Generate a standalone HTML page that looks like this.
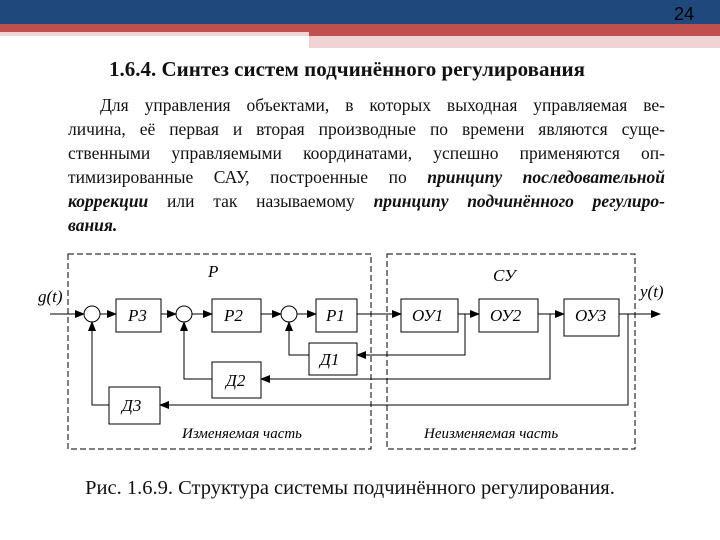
<!DOCTYPE html>
<html><head><meta charset="utf-8"><style>
body{margin:0;width:720px;height:540px;overflow:hidden;background:#fff;position:relative;font-family:"Liberation Serif",serif;}
.l{position:absolute;left:68px;width:597px;font-size:17.5px;line-height:20px;text-align:justify;text-align-last:justify;white-space:nowrap;color:#111;}
b i, i b{font-weight:bold;}
</style></head><body>
<div style="position:absolute;left:0;top:0;width:720px;height:24px;background:#1f497d"></div>
<div style="position:absolute;left:0;top:24px;width:720px;height:8px;background:#c0504d"></div>
<div style="position:absolute;left:0;top:32px;width:309px;height:4px;background:#f2d3d3"></div>
<div style="position:absolute;left:309px;top:32px;width:411px;height:4px;background:#c0504d"></div>
<div style="position:absolute;left:309px;top:36px;width:411px;height:12px;background:#f0d4d4"></div>
<div style="position:absolute;left:674px;top:4px;font-family:'Liberation Sans Narrow','Liberation Sans',sans-serif;font-size:18px;color:#000">24</div>
<div style="position:absolute;left:0;width:694px;top:57px;text-align:center;font-size:21px;font-weight:bold;color:#111">1.6.4. Синтез систем подчинённого регулирования</div>
<div class="l" style="top:95px;left:100px;width:565px">Для управления объектами, в которых выходная управляемая ве-</div>
<div class="l" style="top:119px">личина, её первая и вторая производные по времени являются суще-</div>
<div class="l" style="top:143px">ственными управляемыми координатами, успешно применяются оп-</div>
<div class="l" style="top:167px">тимизированные САУ, построенные по <b><i>принципу последовательной</i></b></div>
<div class="l" style="top:191px"><b><i>коррекции</i></b> или так называемому <b><i>принципу подчинённого регулиро-</i></b></div>
<div class="l" style="top:215px;text-align-last:left"><b><i>вания.</i></b></div>
<svg style="position:absolute;left:0;top:0" width="720" height="540" font-family="Liberation Serif, serif" font-style="italic" font-size="17">
<defs><marker id="a" markerWidth="10" markerHeight="8" refX="9" refY="4" orient="auto" markerUnits="userSpaceOnUse"><path d="M0,0L10,4L0,8z" fill="#000"/></marker></defs>
<g fill="none" stroke="#000" stroke-width="1">
<rect x="68" y="254" width="303" height="195" stroke-dasharray="6,3"/>
<rect x="387" y="254" width="248" height="195" stroke-dasharray="6,3"/>
<rect x="116" y="299" width="45" height="33"/>
<rect x="212" y="299" width="49" height="33"/>
<rect x="316" y="299" width="41" height="33"/>
<rect x="309" y="343" width="48" height="32"/>
<rect x="212" y="362" width="49" height="36"/>
<rect x="109" y="387" width="51" height="37"/>
<rect x="401" y="299" width="57" height="33"/>
<rect x="479" y="299" width="59" height="33"/>
<rect x="564" y="299" width="55" height="37"/>
<circle cx="92" cy="314" r="8"/><circle cx="184" cy="314" r="8"/><circle cx="289" cy="314" r="8"/>
<g marker-end="url(#a)">
<line x1="50" y1="314" x2="84" y2="314"/>
<line x1="100" y1="314" x2="116" y2="314"/>
<line x1="161" y1="314" x2="176" y2="314"/>
<line x1="192" y1="314" x2="212" y2="314"/>
<line x1="261" y1="314" x2="281" y2="314"/>
<line x1="297" y1="314" x2="316" y2="314"/>
<line x1="357" y1="314" x2="401" y2="314"/>
<line x1="458" y1="314" x2="479" y2="314"/>
<line x1="538" y1="314" x2="564" y2="314"/>
<line x1="619" y1="314" x2="660" y2="314"/>
<polyline points="465,314 465,355 357,355"/>
<polyline points="550,314 550,379 261,379"/>
<polyline points="628,314 628,405 160,405"/>
<polyline points="309,355 289,355 289,322"/>
<polyline points="212,379 184,379 184,322"/>
<polyline points="109,405 92,405 92,322"/>
</g></g>
<g fill="#000">
<text x="128" y="321">Р3</text><text x="224" y="321">Р2</text><text x="326" y="321">Р1</text>
<text x="320" y="365">Д1</text><text x="226" y="386">Д2</text><text x="122" y="411">Д3</text>
<text x="412" y="321">ОУ1</text><text x="490" y="321">ОУ2</text><text x="575" y="321">ОУ3</text>
<text x="208" y="277">Р</text><text x="493" y="281">СУ</text>
<text x="38" y="302">g(t)</text><text x="640" y="297">y(t)</text>
<text x="182" y="438" font-size="15">Изменяемая часть</text>
<text x="424" y="438" font-size="15">Неизменяемая часть</text>
</g>
</svg>
<div style="position:absolute;left:0;width:700px;top:477px;text-align:center;font-size:20.5px;color:#111">Рис. 1.6.9. Структура системы подчинённого регулирования.</div>
</body></html>
